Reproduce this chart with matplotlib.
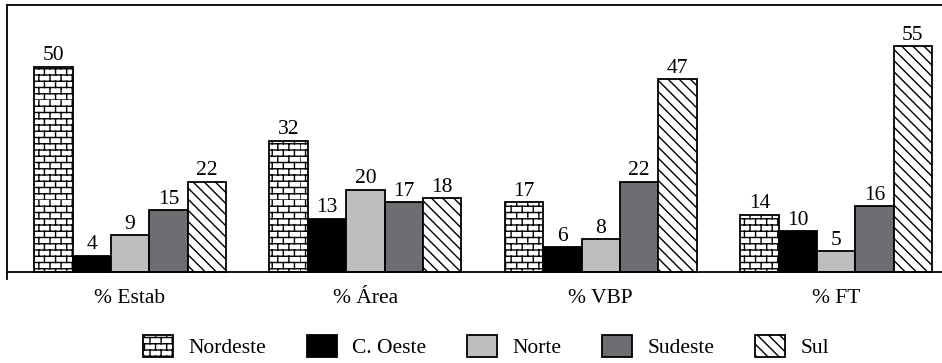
import warnings
import numpy as np
import matplotlib
matplotlib.use("Agg")
import matplotlib.pyplot as plt
from matplotlib import hatch as mhatch
from matplotlib.path import Path

warnings.filterwarnings("ignore")

categories = ["% Estab", "% Área", "% VBP", "% FT"]
regions = ["Nordeste", "C. Oeste", "Norte", "Sudeste", "Sul"]
nordeste = [50, 32, 17, 14]
c_oeste = [4, 13, 6, 10]
norte = [9, 20, 8, 5]
sudeste = [15, 17, 22, 16]
sul = [22, 18, 47, 55]


# brick hatch, 'b' in the hatch string
class BrickHatch(mhatch.HatchPatternBase):
    def __init__(self, hatch, density):
        self.rows = hatch.count('b') * 16
        self.cols = hatch.count('b') * 9
        self.num_vertices = 2 * self.rows + 2 * self.rows * self.cols

    def set_vertices_and_codes(self, vertices, codes):
        n, m = self.rows, self.cols
        k = 0
        for i in range(n):
            y = i / n
            vertices[k] = (0.0, y)
            vertices[k + 1] = (1.0, y)
            codes[k] = Path.MOVETO
            codes[k + 1] = Path.LINETO
            k += 2
            for j in range(m):
                x = (j + 0.5 * (i % 2)) / m
                vertices[k] = (x, y)
                vertices[k + 1] = (x, y + 1 / n)
                codes[k] = Path.MOVETO
                codes[k + 1] = Path.LINETO
                k += 2


mhatch._hatch_types.append(BrickHatch)

plt.rcParams['font.family'] = 'serif'
plt.rcParams['font.serif'] = ['Liberation Serif', 'Times New Roman', 'DejaVu Serif']
plt.rcParams['hatch.linewidth'] = 1.0
fs = 15.5

fig = plt.figure(figsize=(9.42, 3.63), dpi=100)
ax = fig.add_axes([0.0074, 0.2314, 0.9926, 0.7548])

series = [nordeste, c_oeste, norte, sudeste, sul]
faces = ["white", "black", "#bdbebf", "#6d6e71", "white"]
hatches = ["b", None, None, None, "\\\\\\"]

x = np.arange(len(categories))
w = 0.163
for i, (vals, fc, h) in enumerate(zip(series, faces, hatches)):
    bars = ax.bar(x + (i - 2) * w, vals, w, color=fc, edgecolor="black",
                  linewidth=1.3, hatch=h, label=regions[i])
    for b, v in zip(bars, vals):
        ax.annotate(str(v), (b.get_x() + b.get_width() / 2, v),
                    xytext=(0, 1), textcoords="offset points",
                    ha="center", va="bottom", fontsize=fs)

ax.axhline(0, color="black", linewidth=1.3)
ax.set_ylim(-1.7, 65)
ax.set_xlim(-0.523, 3.45)
ax.set_xticks(x)
ax.set_xticklabels(categories, fontsize=fs)
ax.tick_params(axis="x", length=0, pad=7)
ax.set_yticks([])
ax.spines["right"].set_visible(False)
ax.spines["bottom"].set_visible(False)
ax.spines["left"].set_linewidth(1.3)
ax.spines["top"].set_linewidth(1.3)

fig.legend(loc="center", bbox_to_anchor=(0.516, 0.045), ncol=5, frameon=False,
           fontsize=fs, handlelength=1.4, handleheight=1.2,
           columnspacing=1.9, handletextpad=0.7, borderpad=0.2)

fig.savefig("out.png", dpi=100)
